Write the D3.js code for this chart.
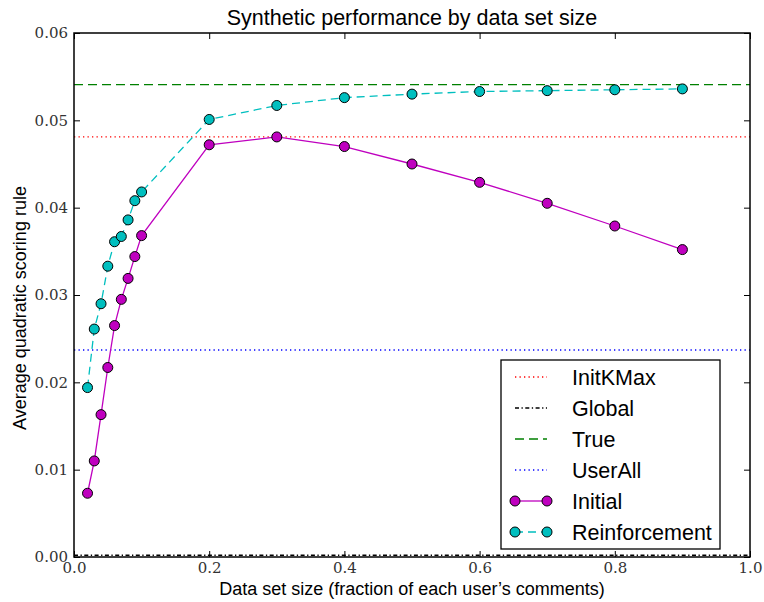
<!DOCTYPE html>
<html>
<head>
<meta charset="utf-8">
<script src="https://cdn.jsdelivr.net/npm/d3@7"></script>
<style>
  body { margin: 0; background: #fff; }
</style>
</head>
<body>
<div id="chart"></div>
<script>
//Data
var sizes = [0.02, 0.03, 0.04, 0.05, 0.06, 0.07, 0.08, 0.09, 0.1, 0.2, 0.3, 0.4, 0.5, 0.6, 0.7, 0.8, 0.9];
var initial = [0.0073, 0.0110, 0.0163, 0.0217, 0.0265, 0.0295, 0.0319, 0.0344, 0.0368, 0.0472, 0.0481, 0.0470, 0.0450, 0.0429, 0.0405, 0.0379, 0.0352];
var reinforcement = [0.0194, 0.0261, 0.0290, 0.0333, 0.0361, 0.0367, 0.0386, 0.0408, 0.0418, 0.0501, 0.0517, 0.0526, 0.0530, 0.0533, 0.0534, 0.0535, 0.0536];
var baselineNames = ['InitKMax', 'Global', 'True', 'UserAll'];
var baselineValues = [0.0481, 0.0002, 0.0541, 0.0237];
var xTicks = [0, 0.2, 0.4, 0.6, 0.8, 1.0];
var yTicks = [0, 0.01, 0.02, 0.03, 0.04, 0.05, 0.06];

//Styles for each series
var baselineStyles = {
  InitKMax: {color: '#ff0000', dash: '1.3,3.2'},
  Global:   {color: '#000000', dash: '4,2.5,1.3,2.5'},
  True:     {color: '#008000', dash: '9,5'},
  UserAll:  {color: '#0000ff', dash: '1.3,3.2'}
};

var margin = {top: 33, right: 14, bottom: 45, left: 74},
    width = 764 - margin.left - margin.right,
    height = 602 - margin.top - margin.bottom;

//Set up scales
var x = d3.scaleLinear().domain([0, 1]).range([0, width]);
var y = d3.scaleLinear().domain([0, 0.06]).range([height, 0]);

var svg = d3.select('#chart').append('svg')
    .attr('width', 764)
    .attr('height', 602)
  .append('g')
    .attr('transform', 'translate(' + margin.left + ',' + margin.top + ')');

//Axes with ticks pointing inward
var serif = 'DejaVu Serif';
svg.append('g')
    .attr('transform', 'translate(0,' + height + ')')
    .call(d3.axisBottom(x).tickValues(xTicks).tickFormat(d3.format('.1f'))
      .tickSizeInner(-6).tickSizeOuter(0).tickPadding(5))
    .attr('font-family', serif).attr('font-size', 15);
svg.append('g')
    .call(d3.axisTop(x).tickValues(xTicks).tickFormat('')
      .tickSizeInner(-6).tickSizeOuter(0));
svg.append('g')
    .call(d3.axisLeft(y).tickValues(yTicks).tickFormat(d3.format('.2f'))
      .tickSizeInner(-6).tickSizeOuter(0).tickPadding(6))
    .attr('font-family', serif).attr('font-size', 15);
svg.append('g')
    .attr('transform', 'translate(' + width + ',0)')
    .call(d3.axisRight(y).tickValues(yTicks).tickFormat('')
      .tickSizeInner(-6).tickSizeOuter(0));
svg.selectAll('.domain').remove();
svg.selectAll('.tick line').attr('stroke', '#000').attr('stroke-width', 1);
svg.selectAll('.tick text').attr('fill', '#333');

//Horizontal reference lines
baselineNames.forEach(function(name, i) {
  svg.append('line')
    .attr('x1', 0).attr('x2', width)
    .attr('y1', y(baselineValues[i])).attr('y2', y(baselineValues[i]))
    .attr('stroke', baselineStyles[name].color)
    .attr('stroke-width', 1.3)
    .attr('stroke-dasharray', baselineStyles[name].dash);
});

var line = d3.line()
  .x(function(d) { return x(d[0]); })
  .y(function(d) { return y(d[1]); });

var initialPts = sizes.map(function(s, i) { return [s, initial[i]]; });
var reinfPts = sizes.map(function(s, i) { return [s, reinforcement[i]]; });

//Lines
svg.append('path').datum(initialPts)
  .attr('d', line).attr('fill', 'none')
  .attr('stroke', '#bf00bf').attr('stroke-width', 1.3);
svg.append('path').datum(reinfPts)
  .attr('d', line).attr('fill', 'none')
  .attr('stroke', '#00bfbf').attr('stroke-width', 1.3)
  .attr('stroke-dasharray', '8,5');

//Markers
svg.selectAll('circle.init').data(initialPts).enter().append('circle')
  .attr('class', 'init')
  .attr('cx', function(d) { return x(d[0]); })
  .attr('cy', function(d) { return y(d[1]); })
  .attr('r', 5).attr('fill', '#bf00bf').attr('stroke', '#000').attr('stroke-width', 1);
svg.selectAll('circle.reinf').data(reinfPts).enter().append('circle')
  .attr('class', 'reinf')
  .attr('cx', function(d) { return x(d[0]); })
  .attr('cy', function(d) { return y(d[1]); })
  .attr('r', 5).attr('fill', '#00bfbf').attr('stroke', '#000').attr('stroke-width', 1);

//Frame
svg.append('rect')
  .attr('width', width).attr('height', height)
  .attr('fill', 'none').attr('stroke', '#000').attr('stroke-width', 1.5);

//Title and axis labels
svg.append('text')
  .attr('x', width / 2).attr('y', -8)
  .attr('text-anchor', 'middle')
  .style('font-family', '"Liberation Sans", Arial, sans-serif')
  .style('font-size', '21.5px')
  .text('Synthetic performance by data set size');
svg.append('text')
  .attr('x', width / 2).attr('y', height + 38)
  .attr('text-anchor', 'middle')
  .style('font-family', '"Liberation Sans", Arial, sans-serif')
  .style('font-size', '18px')
  .text('Data set size (fraction of each user\u2019s comments)');
svg.append('text')
  .attr('transform', 'translate(' + (-48) + ',' + (height / 2 + 13) + ') rotate(-90)')
  .attr('text-anchor', 'middle')
  .style('font-family', '"Liberation Sans", Arial, sans-serif')
  .style('font-size', '18px')
  .text('Average quadratic scoring rule');

//Legend, anchored to the lower right of the axes
var legendNames = baselineNames.concat(['Initial', 'Reinforcement']);
var legend = svg.append('g')
  .attr('transform', 'translate(' + (width - 249) + ',' + (height - 197) + ')');
legend.append('rect')
  .attr('width', 219).attr('height', 189)
  .attr('fill', '#fff').attr('stroke', '#000').attr('stroke-width', 1.3);

var rows = legend.selectAll('g.row').data(legendNames).enter().append('g')
  .attr('class', 'row')
  .attr('transform', function(d, i) { return 'translate(0,' + (17 + i * 31) + ')'; });

rows.append('line')
  .attr('x1', 14).attr('x2', 46).attr('y1', 0).attr('y2', 0)
  .attr('stroke', function(d) {
    if (d == 'Initial') return '#bf00bf';
    if (d == 'Reinforcement') return '#00bfbf';
    return baselineStyles[d].color;
  })
  .attr('stroke-width', 1.3)
  .attr('stroke-dasharray', function(d) {
    if (d == 'Initial') return null;
    if (d == 'Reinforcement') return '8,5';
    return baselineStyles[d].dash;
  });

rows.filter(function(d) { return d == 'Initial' || d == 'Reinforcement'; })
  .selectAll('circle').data(function(d) { return [[14, d], [46, d]]; })
  .enter().append('circle')
  .attr('cx', function(d) { return d[0]; }).attr('cy', 0).attr('r', 5)
  .attr('fill', function(d) { return d[1] == 'Initial' ? '#bf00bf' : '#00bfbf'; })
  .attr('stroke', '#000').attr('stroke-width', 1);

rows.append('text')
  .attr('x', 71).attr('dy', '0.36em')
  .style('font-family', '"Liberation Sans", Arial, sans-serif')
  .style('font-size', '21.5px')
  .text(function(d) { return d; });
</script>
</body>
</html>
